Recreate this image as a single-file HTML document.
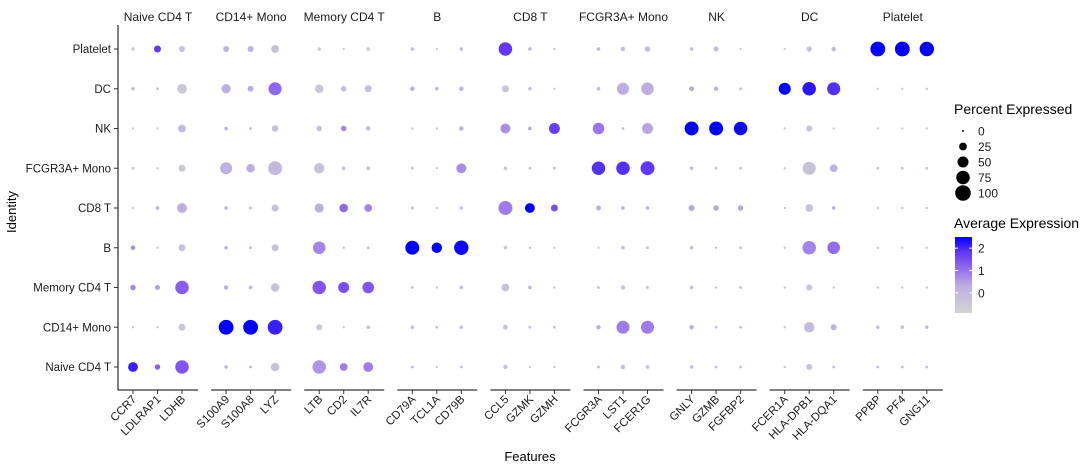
<!DOCTYPE html>
<html><head><meta charset="utf-8"><style>
body{margin:0;background:#fff}
svg{display:block;font-family:"Liberation Sans","Noto Sans CJK SC",sans-serif}
</style></head><body>
<svg id="chart" width="1080" height="465" viewBox="0 0 1080 465"></svg>
<script>
const rows=["Platelet","DC","NK","FCGR3A+ Mono","CD8 T","B","Memory CD4 T","CD14+ Mono","Naive CD4 T"];
const panels=["Naive CD4 T","CD14+ Mono","Memory CD4 T","B","CD8 T","FCGR3A+ Mono","NK","DC","Platelet"];
const genes=["CCR7","LDLRAP1","LDHB","S100A9","S100A8","LYZ","LTB","CD2","IL7R","CD79A","TCL1A","CD79B","CCL5","GZMK","GZMH","FCGR3A","LST1","FCER1G","GNLY","GZMB","FGFBP2","FCER1A","HLA-DPB1","HLA-DQA1","PPBP","PF4","GNG11"];
const pctPlatelet=[5,20,15,15,15,25,5,2,5,5,2,5,75,5,2,5,8,12,5,10,2,2,12,8,90,90,85];
const avgPlatelet=[-0.5,1.8,-0.3,0.2,0.2,-0.2,-0.5,-0.5,-0.3,0,-0.3,0,1.8,0,-0.3,0,0,0,0,0,-0.3,-0.5,-0.3,0,2.5,2.5,2.5];
const pctDC=[5,3,40,35,15,70,30,12,20,8,5,8,20,5,2,5,60,65,10,8,3,60,75,70,2,2,2];
const avgDC=[0,-0.3,-0.5,0.3,0.3,1.2,-0.5,0,-0.2,0.3,0.3,0.3,-0.4,0,-0.3,0,0.3,0.3,0.3,0.3,0,2.5,2.2,1.9,-0.3,-0.3,-0.3];
const pctNK=[2,2,25,5,3,18,12,12,8,2,2,8,40,5,50,55,3,50,80,80,75,2,15,2,2,2,2];
const avgNK=[-0.3,-0.3,0,0.3,0.3,-0.2,-0.2,0.8,0,0,0,0.3,0.7,0.5,1.7,1.0,0,0.4,2.5,2.5,2.4,-0.3,-0.3,-0.3,-0.3,-0.3,-0.3];
const pctFCGR=[3,2,20,60,30,80,45,5,5,3,2,40,5,3,3,75,75,80,5,3,3,2,70,25,3,3,3];
const avgFCGR=[0,0,-0.5,0.2,0.3,0,-0.3,0,0,0,0,0.7,-0.3,0,0,1.9,1.9,1.8,0,0,0,0,-0.3,0.2,0,0,0];
const pctCD8=[2,5,40,5,3,20,35,30,25,3,2,5,80,40,20,10,5,5,15,12,12,2,25,5,2,2,2];
const avgCD8=[0,0.3,0.3,0.3,0.3,-0.3,0.3,1.2,0.8,0,0,0,0.9,2.5,1.5,0.3,0.3,0.3,0.4,0.4,0.4,0,-0.3,0.3,0,0,0];
const pctB=[8,2,20,5,3,20,65,2,3,80,45,85,5,2,2,2,5,3,5,2,3,2,75,65,2,2,2];
const avgB=[0.8,0,-0.3,0.3,0.3,-0.3,0.8,0,0,2.5,2.5,2.4,-0.3,0,0,0,0,0,0,0,0,0,0.8,1.1,0,0,0];
const pctMem=[12,10,75,8,5,30,75,50,55,3,2,5,25,5,2,3,8,3,5,2,3,2,15,2,2,2,2];
const avgMem=[0.8,0.5,1.3,0.3,0.3,-0.3,1.4,1.5,1.4,0,0,0,-0.3,0.3,0,0,-0.2,0,0,0,0,0,-0.3,0,0,0,0];
const pctCD14=[2,2,20,90,90,90,15,2,5,5,3,5,10,3,3,8,70,70,8,3,3,2,45,15,5,5,5];
const avgCD14=[0,0,-0.5,2.5,2.5,2.1,-0.5,0,0,0,0,0,-0.3,0,0,0.3,0.9,0.9,0.3,0,0,0,-0.1,0.2,0,0,0];
const pctNaive=[40,12,75,5,3,30,75,25,40,3,2,3,8,2,2,3,8,5,5,3,3,2,15,3,3,3,3];
const avgNaive=[2.1,1.3,1.4,0.3,0.3,-0.3,0.6,0.9,0.9,0,0,0,-0.3,0,0,0,0,0,0,0,0,0,-0.3,0,0,0,0];
const pctRows=[pctPlatelet,pctDC,pctNK,pctFCGR,pctCD8,pctB,pctMem,pctCD14,pctNaive];
const avgRows=[avgPlatelet,avgDC,avgNK,avgFCGR,avgCD8,avgB,avgMem,avgCD14,avgNaive];
const sizeTicks=[0,25,50,75,100];
const colorTicks=[2,1,0];

const NS="http://www.w3.org/2000/svg";
const svg=document.getElementById('chart');
function mk(t,a,p){const e=document.createElementNS(NS,t);for(const k in a)e.setAttribute(k,a[k]);(p||svg).appendChild(e);return e;}
const cmin=-0.9,cmax=2.5;
const stops=[[0,211,211,211],[0.35,190,175,225],[0.6,145,105,238],[0.8,95,55,245],[1,0,0,255]];
function colT(t){t=Math.max(0,Math.min(1,t));
 for(let i=1;i<stops.length;i++){if(t<=stops[i][0]){const a=stops[i-1],b=stops[i],u=(t-a[0])/(b[0]-a[0]);
  return `rgb(${Math.round(a[1]+(b[1]-a[1])*u)},${Math.round(a[2]+(b[2]-a[2])*u)},${Math.round(a[3]+(b[3]-a[3])*u)})`;}}
 return 'rgb(0,0,255)';}
function col(v){return colT((v-cmin)/(cmax-cmin));}
function rad(p){return Math.max(1,7.8*Math.sqrt(p/100));}
const yTop=49,yStep=39.75;
function yPos(i){return yTop+i*yStep;}
function panelLeft(k){return 118+k*93.1;}
function xPos(g){const k=Math.floor(g/3),j=g%3;return panelLeft(k)+15+j*24.5;}
const axisY=390;
const ya=mk('line',{x1:118,y1:25,x2:118,y2:axisY,stroke:'#000','stroke-width':1});

rows.forEach((r,i)=>{
 mk('line',{x1:114,y1:yPos(i),x2:118,y2:yPos(i),stroke:'#333'});
 const t=mk('text',{x:111,y:yPos(i)+4,'text-anchor':'end','font-size':11.5,fill:'#1a1a1a'});t.textContent=r;
 
});
panels.forEach((p,k)=>{
 const L=panelLeft(k);
 const t=mk('text',{x:L+40,y:21,'text-anchor':'middle','font-size':12,fill:'#1a1a1a'});t.textContent=p;
 
 const l=mk('line',{x1:L,y1:axisY,x2:L+80,y2:axisY,stroke:'#000'});
 
});
genes.forEach((g,gi)=>{
 const x=xPos(gi);
 mk('line',{x1:x,y1:axisY,x2:x,y2:axisY+4,stroke:'#333'});
 const t=mk('text',{x:0,y:0,'text-anchor':'end','font-size':11.5,fill:'#1a1a1a',transform:`translate(${x+4},${axisY+10}) rotate(-45)`});
 t.textContent=g;
 
});
rows.forEach((r,i)=>{genes.forEach((g,gi)=>{
 const c=mk('circle',{cx:xPos(gi),cy:yPos(i),r:rad(pctRows[i][gi]),fill:col(avgRows[i][gi])});
 
});});
let t=mk('text',{x:530,y:461,'text-anchor':'middle','font-size':13,fill:'#000'});t.textContent='Features';

t=mk('text',{x:0,y:0,'text-anchor':'middle','font-size':13,fill:'#000',transform:'translate(16,212) rotate(-90)'});t.textContent='Identity';

t=mk('text',{x:954,y:114,'font-size':14,fill:'#000'});t.textContent='Percent Expressed';

sizeTicks.forEach((s,i)=>{const y=131+i*15.5;
 const c=mk('circle',{cx:963,cy:y,r:rad(s),fill:'#000'});
 
 const tt=mk('text',{x:978,y:y+4.5,'font-size':12,fill:'#1a1a1a'});tt.textContent=s;
 
});
t=mk('text',{x:954,y:228,'font-size':14,fill:'#000'});t.textContent='Average Expression';

const defs=mk('defs',{});const lg=mk('linearGradient',{id:'cg',x1:0,y1:1,x2:0,y2:0},defs);
stops.forEach(s=>mk('stop',{offset:s[0],'stop-color':`rgb(${s[1]},${s[2]},${s[3]})`},lg));
const cbTop=237,cbBot=313;
const cb=mk('rect',{x:955,y:cbTop,width:17,height:cbBot-cbTop,fill:'url(#cg)'});

colorTicks.forEach(v=>{const y=cbBot-(v-cmin)/(cmax-cmin)*(cbBot-cbTop);
 mk('line',{x1:955,y1:y,x2:958,y2:y,stroke:'#fff'});mk('line',{x1:969,y1:y,x2:972,y2:y,stroke:'#fff'});
 const tt=mk('text',{x:978,y:y+4.5,'font-size':12,fill:'#1a1a1a'});tt.textContent=v;
 
});
</script>
</body></html>
